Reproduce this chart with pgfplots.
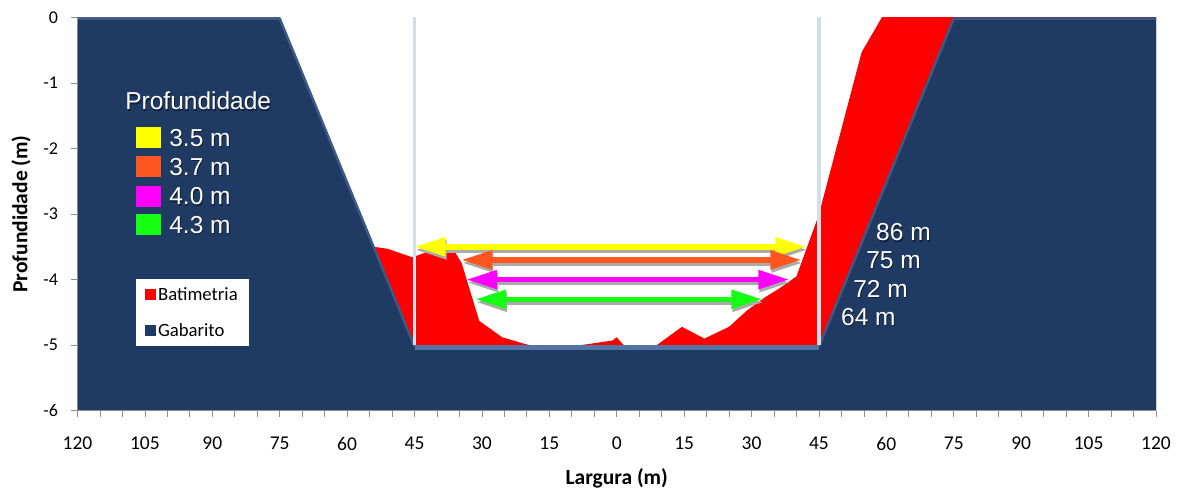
\documentclass[border=0pt]{standalone}
\usepackage{pgfplots}
\pgfplotsset{compat=1.18}
\usetikzlibrary{arrows.meta}
\usepackage{fontspec}
\setmainfont{Carlito}
\newfontfamily\arialf{Liberation Sans}

\definecolor{gabarito}{RGB}{31,59,99}
\definecolor{bevel}{RGB}{62,90,132}
\definecolor{floorbevel}{RGB}{84,116,165}
\definecolor{batim}{RGB}{255,0,0}
\definecolor{guide}{RGB}{208,224,232}
\definecolor{axgray}{RGB}{140,140,140}
\definecolor{shadowgray}{RGB}{170,170,170}
\definecolor{p35}{RGB}{255,255,0}
\definecolor{p37}{RGB}{255,85,30}
\definecolor{p40}{RGB}{255,0,255}
\definecolor{p43}{RGB}{20,255,20}

\tikzset{
  dbl/.style={line width=5.5pt, {Triangle[length=31pt,width=18pt]}-{Triangle[length=31pt,width=18pt]}},
  big/.style={font=\arialf\fontsize{24.5}{24.5}\selectfont, inner sep=0pt, anchor=west},
}

\begin{document}
\begin{tikzpicture}
\begin{axis}[
  scale only axis,
  width=1078.5pt, height=393.3pt,
  xmin=-120, xmax=120, ymin=-6, ymax=0,
  axis on top,
  axis x line*=bottom, axis y line*=left,
  axis line style={axgray, line width=0.8pt},
  xtick={-120,-105,...,120},
  xticklabels={120,105,90,75,60,45,30,15,0,15,30,45,60,75,90,105,120},
  minor xtick={-115,-110,...,115},
  ytick={-6,-5,...,0},
  yticklabels={-6,-5,-4,-3,-2,-1,0},
  tick align=outside,
  major tick length=6pt, minor tick length=6pt,
  tick style={axgray, line width=0.8pt},
  xticklabel style={font=\fontsize{19.5}{19.5}\selectfont, yshift=-17pt},
  yticklabel style={font=\fontsize{18}{18}\selectfont, xshift=-10pt},
  xlabel={Largura (m)}, ylabel={Profundidade (m)},
  xlabel style={font=\bfseries\fontsize{21.5}{21.5}\selectfont,
    at={(axis description cs:0.5,-0.1716)}, anchor=center},
  ylabel style={font=\bfseries\fontsize{21.5}{21.5}\selectfont,
    at={(axis description cs:-0.0524,0.5)}, anchor=center},
  legend style={at={(axis description cs:0.0542,0.3349)}, anchor=north west,
    draw=none, fill=white, font=\fontsize{18.7}{18.7}\selectfont,
    inner xsep=9pt, inner ysep=6pt, row sep=18pt},
  legend cell align=left,
  legend image code/.code={\fill[#1] (0pt,-5.5pt) rectangle (11pt,5.5pt);},
]

% measured channel bottom (bathymetry)
\addplot[fill=batim, draw=none] coordinates {
  (-60,-6) (-60,-3.45) (-54,-3.5) (-51,-3.53) (-45.5,-3.66) (-41.5,-3.56)
  (-36,-3.58) (-34.5,-3.75) (-30.6,-4.63) (-25.5,-4.88) (-19.5,-5.0)
  (-8,-5.0) (-1,-4.93) (0,-4.88) (1.8,-5.02) (8.5,-5.02) (14.5,-4.72)
  (19.5,-4.9) (25,-4.72) (29,-4.47) (33,-4.27) (36.5,-4.12) (40,-3.95)
  (44.5,-3.1) (45.2,-2.95) (54.5,-0.53) (59,0) (62,0.3) (120,0.3) (120,-6)};
\addlegendentry{Batimetria}

% design channel section
\addplot[fill=gabarito, draw=none] coordinates {
  (-120,-6) (-120,0) (-75,0) (-45,-5) (45,-5) (75,0) (120,0) (120,-6)};
\addlegendentry{Gabarito}

% highlighted edges of the design section
\addplot[forget plot, draw=bevel, line width=2.5pt, yshift=-1.25pt]
  coordinates {(-120,0) (-75,0) (-45,-5)};
\addplot[forget plot, draw=bevel, line width=2.5pt, yshift=-1.25pt]
  coordinates {(45,-5) (75,0) (120,0)};
\addplot[forget plot, draw=floorbevel, line width=5pt, yshift=-2.5pt]
  coordinates {(-45,-5) (45,-5)};

% channel limits
\addplot[forget plot, draw=guide, line width=3.5pt] coordinates {(-45,0) (-45,-5)};
\addplot[forget plot, draw=guide, line width=3.5pt] coordinates {(45,0) (45,-5)};

% available widths at each depth
\addplot[forget plot, draw=shadowgray, fill=shadowgray, dbl, xshift=1pt, yshift=-3pt] coordinates {(-45,-3.5) (42.2,-3.5)};
\addplot[forget plot, draw=shadowgray, fill=shadowgray, dbl, xshift=1pt, yshift=-3pt] coordinates {(-34.6,-3.7) (41.1,-3.7)};
\addplot[forget plot, draw=shadowgray, fill=shadowgray, dbl, xshift=1pt, yshift=-3pt] coordinates {(-33.5,-4.0) (38.4,-4.0)};
\addplot[forget plot, draw=shadowgray, fill=shadowgray, dbl, xshift=1pt, yshift=-3pt] coordinates {(-31.5,-4.3) (32.4,-4.3)};

\addplot[forget plot, draw=p35, fill=p35, dbl] coordinates {(-45,-3.5) (42.2,-3.5)};
\addplot[forget plot, draw=p37, fill=p37, dbl] coordinates {(-34.6,-3.7) (41.1,-3.7)};
\addplot[forget plot, draw=p40, fill=p40, dbl] coordinates {(-33.5,-4.0) (38.4,-4.0)};
\addplot[forget plot, draw=p43, fill=p43, dbl] coordinates {(-31.5,-4.3) (32.4,-4.3)};

% width labels
\node[big, text=black, opacity=0.45, xshift=1pt, yshift=-1.5pt] at (axis cs:57.7,-3.275) {86 m};
\node[big, text=black, opacity=0.45, xshift=1pt, yshift=-1.5pt] at (axis cs:55.5,-3.70) {75 m};
\node[big, text=black, opacity=0.45, xshift=1pt, yshift=-1.5pt] at (axis cs:52.6,-4.14) {72 m};
\node[big, text=black, opacity=0.45, xshift=1pt, yshift=-1.5pt] at (axis cs:49.9,-4.57) {64 m};
\node[big, text=white] at (axis cs:57.7,-3.275) {86 m};
\node[big, text=white] at (axis cs:55.5,-3.70) {75 m};
\node[big, text=white] at (axis cs:52.6,-4.14) {72 m};
\node[big, text=white] at (axis cs:49.9,-4.57) {64 m};

% depth key
\node[big, text=black, opacity=0.45, xshift=1pt, yshift=-1.5pt] at (axis cs:-109.4,-1.277) {Profundidade};
\node[big, text=white] at (axis cs:-109.4,-1.277) {Profundidade};
\node[anchor=west, inner sep=0, minimum width=25pt, minimum height=21pt, fill=p35] at (axis cs:-107,-1.834) {};
\node[anchor=west, inner sep=0, minimum width=25pt, minimum height=21pt, fill=p37] at (axis cs:-107,-2.276) {};
\node[anchor=west, inner sep=0, minimum width=25pt, minimum height=21pt, fill=p40] at (axis cs:-107,-2.726) {};
\node[anchor=west, inner sep=0, minimum width=25pt, minimum height=21pt, fill=p43] at (axis cs:-107,-3.161) {};
\node[big, text=black, opacity=0.45, xshift=1pt, yshift=-1.5pt] at (axis cs:-99.6,-1.834) {3.5 m};
\node[big, text=black, opacity=0.45, xshift=1pt, yshift=-1.5pt] at (axis cs:-99.6,-2.276) {3.7 m};
\node[big, text=black, opacity=0.45, xshift=1pt, yshift=-1.5pt] at (axis cs:-99.6,-2.726) {4.0 m};
\node[big, text=black, opacity=0.45, xshift=1pt, yshift=-1.5pt] at (axis cs:-99.6,-3.161) {4.3 m};
\node[big, text=white] at (axis cs:-99.6,-1.834) {3.5 m};
\node[big, text=white] at (axis cs:-99.6,-2.276) {3.7 m};
\node[big, text=white] at (axis cs:-99.6,-2.726) {4.0 m};
\node[big, text=white] at (axis cs:-99.6,-3.161) {4.3 m};
\end{axis}
\pgfresetboundingbox
\path[use as bounding box] ([shift={(-77.5pt,-81.3pt)}]current axis.south west) rectangle ++(1181pt,492pt);
\end{tikzpicture}
\end{document}
